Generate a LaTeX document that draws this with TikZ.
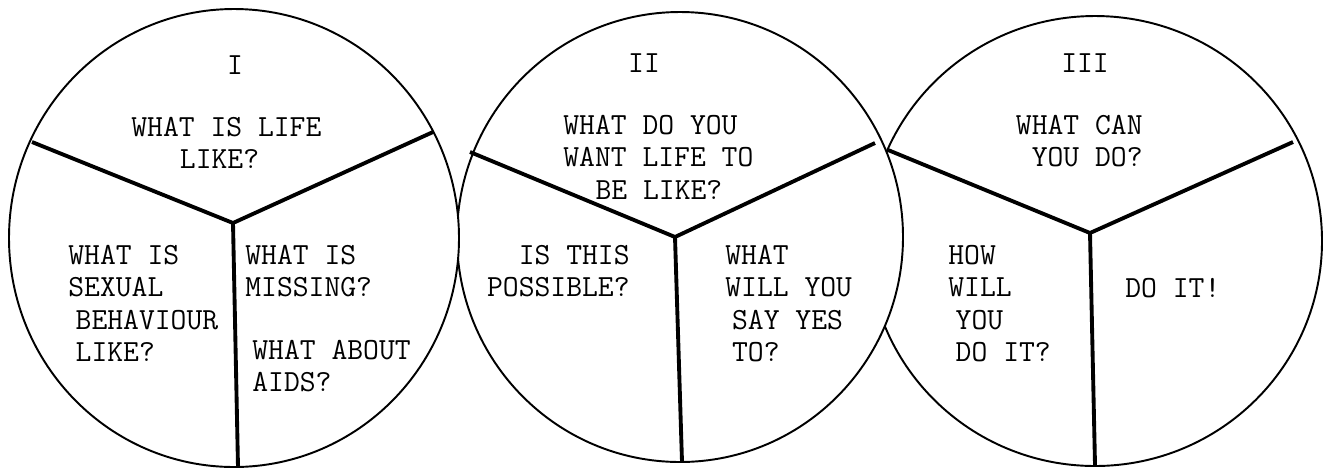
\documentclass[tikz,border=0pt]{standalone}
\usepackage{fontspec}
\usetikzlibrary{positioning}
\tikzset{
	rim/.style    ={draw=black, line width=1.1pt, fill=white},
	spoke/.style  ={draw=black, line width=2.2pt},
	numeral/.style={font=\ttfamily\fontsize{17.5}{18.4}\selectfont, inner sep=0pt, anchor=north},
	qtext/.style  ={font=\ttfamily\fontsize{17.5}{18.4}\selectfont, inner sep=0pt, align=left, anchor=north west},
	qtextr/.style ={qtext, align=right, anchor=north east},
}
\begin{document}
\begin{tikzpicture}[x=0.02cm, y=-0.02cm]
	\useasboundingbox (0,0) rectangle (1327,468);
	% circles, right one first so the middle one lies over it
	\draw[rim] (1095,241) ellipse [x radius=227, y radius=225];
	\draw[rim] (680,237) ellipse [x radius=223, y radius=225];
	\draw[rim] (234,238) ellipse [x radius=225, y radius=229];
	% hubs and spoke ends
	\coordinate (hubA) at (233,223);
	\coordinate (endAl) at (32,142);
	\coordinate (endAr) at (433,132);
	\coordinate (endAd) at (238,467);
	\coordinate (hubB) at (675,237);
	\coordinate (endBl) at (470,152);
	\coordinate (endBr) at (875,143);
	\coordinate (endBd) at (682,462);
	\coordinate (hubC) at (1090,233);
	\coordinate (endCl) at (888,150);
	\coordinate (endCr) at (1293,142);
	\coordinate (endCd) at (1095,465);
	\draw[spoke] (endAl) -- (hubA) -- (endAr); \draw[spoke] (hubA) -- (endAd);
	\draw[spoke] (endBl) -- (hubB) -- (endBr); \draw[spoke] (hubB) -- (endBd);
	\draw[spoke] (endCl) -- (hubC) -- (endCr); \draw[spoke] (hubC) -- (endCd);
	% circle I
	\node[numeral] (numA) at (235,55) {I};
	\node[qtext] (lifeA) at (131,117) {WHAT IS LIFE\\\hspace*{1.58em}LIKE?};
	\node[qtext] (sexA) at (68,245) {WHAT IS\\SEXUAL\\\hspace*{0.24em}BEHAVIOUR\\\hspace*{0.24em}LIKE?};
	\node[qtext] (missA) at (245,245) {WHAT IS\\MISSING?};
	\node[qtext] (aidsA) at (252,340) {WHAT ABOUT\\AIDS?};
	% circle II
	\node[numeral] (numB) at (644,53) {II};
	\node[qtext] (wantB) at (563,115) {WHAT DO YOU\\WANT LIFE TO\\\hspace*{1.05em}BE LIKE?};
	\node[qtextr] (possB) at (630,245) {IS THIS\\POSSIBLE?};
	\node[qtext] (yesB) at (725,245) {WHAT\\WILL YOU\\\hspace*{0.22em}SAY YES\\\hspace*{0.22em}TO?};
	% circle III
	\node[numeral] (numC) at (1085,53) {III};
	\node[qtextr] (canC) at (1143,115) {WHAT CAN\\YOU DO?};
	\node[qtext] (howC) at (948,245) {HOW\\WILL\\\hspace*{0.24em}YOU\\\hspace*{0.24em}DO IT?};
	\node[qtext] (doC) at (1125,278) {DO IT!};
\end{tikzpicture}
\end{document}
